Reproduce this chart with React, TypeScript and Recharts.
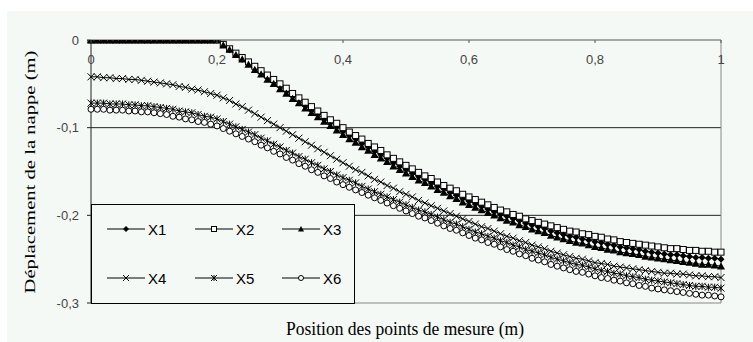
import React from "react";
import { LineChart, Line, XAxis, YAxis, ReferenceLine } from "recharts";

// measuring positions along the sheet (m)
const positions = [
  0, 0.01, 0.02, 0.03, 0.04, 0.05, 0.06, 0.07, 0.08, 0.09, 0.1,
  0.11, 0.12, 0.13, 0.14, 0.15, 0.16, 0.17, 0.18, 0.19, 0.2,
  0.21, 0.22, 0.23, 0.24, 0.25, 0.26, 0.27, 0.28, 0.29, 0.3,
  0.31, 0.32, 0.33, 0.34, 0.35, 0.36, 0.37, 0.38, 0.39, 0.4,
  0.41, 0.42, 0.43, 0.44, 0.45, 0.46, 0.47, 0.48, 0.49, 0.5,
  0.51, 0.52, 0.53, 0.54, 0.55, 0.56, 0.57, 0.58, 0.59, 0.6,
  0.61, 0.62, 0.63, 0.64, 0.65, 0.66, 0.67, 0.68, 0.69, 0.7,
  0.71, 0.72, 0.73, 0.74, 0.75, 0.76, 0.77, 0.78, 0.79, 0.8,
  0.81, 0.82, 0.83, 0.84, 0.85, 0.86, 0.87, 0.88, 0.89, 0.9,
  0.91, 0.92, 0.93, 0.94, 0.95, 0.96, 0.97, 0.98, 0.99, 1,
];

const flatStart = [
  0, 0, 0, 0, 0, 0, 0, 0, 0, 0, 0,
  0, 0, 0, 0, 0, 0, 0, 0, 0, 0,
];

const x1 = [
  ...flatStart,
  -0.005, -0.011, -0.016, -0.022, -0.027, -0.032, -0.037, -0.043, -0.048, -0.053,
  -0.058, -0.064, -0.069, -0.075, -0.08, -0.085, -0.09, -0.094, -0.099, -0.104,
  -0.109, -0.113, -0.118, -0.122, -0.127, -0.131, -0.135, -0.14, -0.144, -0.148,
  -0.152, -0.156, -0.159, -0.163, -0.167, -0.17, -0.174, -0.177, -0.181, -0.184,
  -0.187, -0.19, -0.193, -0.196, -0.199, -0.201, -0.204, -0.206, -0.209, -0.211,
  -0.213, -0.215, -0.218, -0.22, -0.222, -0.224, -0.225, -0.227, -0.228, -0.23,
  -0.231, -0.233, -0.234, -0.236, -0.237, -0.238, -0.239, -0.241, -0.242, -0.243,
  -0.244, -0.245, -0.245, -0.246, -0.247, -0.248, -0.248, -0.249, -0.249, -0.25,
];

const x2 = [
  ...flatStart,
  -0.005, -0.01, -0.015, -0.02, -0.025, -0.03, -0.035, -0.04, -0.045, -0.05,
  -0.055, -0.061, -0.066, -0.071, -0.076, -0.081, -0.086, -0.091, -0.095, -0.1,
  -0.105, -0.109, -0.113, -0.118, -0.122, -0.126, -0.131, -0.135, -0.139, -0.143,
  -0.147, -0.151, -0.155, -0.158, -0.162, -0.166, -0.169, -0.172, -0.176, -0.179,
  -0.182, -0.185, -0.188, -0.191, -0.194, -0.196, -0.199, -0.201, -0.204, -0.206,
  -0.208, -0.21, -0.212, -0.214, -0.216, -0.218, -0.219, -0.221, -0.222, -0.224,
  -0.225, -0.227, -0.228, -0.23, -0.231, -0.232, -0.233, -0.234, -0.235, -0.236,
  -0.237, -0.238, -0.238, -0.239, -0.24, -0.24, -0.241, -0.241, -0.242, -0.242,
];

const x3 = [
  ...flatStart,
  -0.006, -0.011, -0.017, -0.022, -0.028, -0.034, -0.039, -0.045, -0.05, -0.056,
  -0.061, -0.067, -0.072, -0.078, -0.083, -0.088, -0.093, -0.098, -0.103, -0.108,
  -0.113, -0.117, -0.122, -0.126, -0.131, -0.135, -0.139, -0.144, -0.148, -0.152,
  -0.156, -0.16, -0.163, -0.167, -0.171, -0.174, -0.178, -0.181, -0.185, -0.188,
  -0.191, -0.194, -0.197, -0.2, -0.203, -0.206, -0.208, -0.211, -0.213, -0.216,
  -0.218, -0.22, -0.223, -0.225, -0.227, -0.229, -0.231, -0.232, -0.234, -0.236,
  -0.237, -0.239, -0.24, -0.242, -0.243, -0.244, -0.245, -0.247, -0.248, -0.249,
  -0.25, -0.251, -0.252, -0.253, -0.254, -0.255, -0.256, -0.256, -0.257, -0.258,
];

const x4 = [
  -0.042, -0.042, -0.043, -0.043, -0.044, -0.044, -0.045, -0.045, -0.046, -0.047, -0.048,
  -0.049, -0.05, -0.051, -0.053, -0.054, -0.056, -0.057, -0.059, -0.061, -0.063,
  -0.066, -0.069, -0.073, -0.076, -0.08, -0.084, -0.088, -0.092, -0.096, -0.1,
  -0.104, -0.108, -0.112, -0.116, -0.12, -0.124, -0.128, -0.132, -0.136, -0.14,
  -0.144, -0.148, -0.151, -0.155, -0.159, -0.162, -0.166, -0.169, -0.173, -0.176,
  -0.179, -0.183, -0.186, -0.189, -0.192, -0.195, -0.198, -0.201, -0.204, -0.207,
  -0.21, -0.213, -0.215, -0.218, -0.221, -0.224, -0.226, -0.229, -0.231, -0.234,
  -0.236, -0.238, -0.241, -0.243, -0.245, -0.247, -0.249, -0.25, -0.252, -0.254,
  -0.255, -0.256, -0.258, -0.259, -0.26, -0.261, -0.262, -0.263, -0.264, -0.265,
  -0.266, -0.266, -0.267, -0.267, -0.268, -0.269, -0.269, -0.27, -0.27, -0.271,
];

const x5 = [
  -0.072, -0.072, -0.072, -0.073, -0.073, -0.073, -0.074, -0.074, -0.075, -0.075, -0.076,
  -0.077, -0.078, -0.079, -0.081, -0.082, -0.083, -0.085, -0.087, -0.088, -0.09,
  -0.093, -0.096, -0.099, -0.102, -0.105, -0.108, -0.112, -0.115, -0.119, -0.122,
  -0.126, -0.129, -0.133, -0.136, -0.14, -0.143, -0.147, -0.15, -0.154, -0.157,
  -0.16, -0.163, -0.167, -0.17, -0.173, -0.176, -0.179, -0.182, -0.185, -0.188,
  -0.191, -0.194, -0.196, -0.199, -0.202, -0.205, -0.208, -0.21, -0.213, -0.216,
  -0.219, -0.221, -0.224, -0.226, -0.229, -0.231, -0.234, -0.236, -0.239, -0.241,
  -0.243, -0.245, -0.248, -0.25, -0.252, -0.254, -0.256, -0.257, -0.259, -0.261,
  -0.263, -0.264, -0.266, -0.267, -0.269, -0.27, -0.271, -0.273, -0.274, -0.275,
  -0.276, -0.277, -0.278, -0.279, -0.28, -0.281, -0.281, -0.282, -0.282, -0.283,
];

const x6 = [
  -0.079, -0.079, -0.079, -0.08, -0.08, -0.08, -0.081, -0.081, -0.082, -0.082, -0.083,
  -0.084, -0.085, -0.087, -0.088, -0.09, -0.091, -0.093, -0.094, -0.096, -0.098,
  -0.101, -0.104, -0.107, -0.11, -0.113, -0.116, -0.12, -0.123, -0.127, -0.13,
  -0.134, -0.137, -0.141, -0.144, -0.148, -0.151, -0.155, -0.158, -0.162, -0.165,
  -0.168, -0.171, -0.174, -0.177, -0.18, -0.183, -0.186, -0.189, -0.192, -0.195,
  -0.198, -0.201, -0.203, -0.206, -0.209, -0.212, -0.215, -0.217, -0.22, -0.223,
  -0.226, -0.228, -0.231, -0.233, -0.236, -0.239, -0.241, -0.244, -0.246, -0.249,
  -0.251, -0.253, -0.256, -0.258, -0.26, -0.262, -0.264, -0.265, -0.267, -0.269,
  -0.271, -0.272, -0.274, -0.275, -0.277, -0.278, -0.28, -0.281, -0.283, -0.284,
  -0.285, -0.286, -0.287, -0.288, -0.289, -0.29, -0.291, -0.291, -0.292, -0.293,
];

const xTicks = [0, 0.2, 0.4, 0.6, 0.8, 1];
const yTicks = [0, -0.1, -0.2, -0.3];
const seriesNames = ["X1", "X2", "X3", "X4", "X5", "X6"];
const markerShapes = ["diamond", "square", "triangle", "cross", "star", "circle"];

const BG = "#f4f9f6";
const tickFont = "'Liberation Sans', Arial, sans-serif";
const titleFont = "'Liberation Serif', 'Times New Roman', serif";

const data = positions.map((p, i) => ({
  pos: p,
  X1: x1[i],
  X2: x2[i],
  X3: x3[i],
  X4: x4[i],
  X5: x5[i],
  X6: x6[i],
}));

const fmt = (v: number) => (v === 0 ? "0" : String(v).replace(".", ","));

function Marker({ shape, cx, cy, s }: { shape: string; cx: number; cy: number; s: number }) {
  switch (shape) {
    case "diamond":
      return (
        <polygon
          points={`${cx},${cy - s} ${cx + s},${cy} ${cx},${cy + s} ${cx - s},${cy}`}
          fill="#000"
        />
      );
    case "square":
      return (
        <rect x={cx - s + 0.5} y={cy - s + 0.5} width={2 * s - 1} height={2 * s - 1} fill="#fff" stroke="#000" strokeWidth={1} />
      );
    case "triangle":
      return (
        <polygon
          points={`${cx},${cy - s} ${cx + s},${cy + s * 0.8} ${cx - s},${cy + s * 0.8}`}
          fill="#000"
        />
      );
    case "cross":
      return (
        <g stroke="#000" strokeWidth={1}>
          <line x1={cx - s} y1={cy - s} x2={cx + s} y2={cy + s} />
          <line x1={cx - s} y1={cy + s} x2={cx + s} y2={cy - s} />
        </g>
      );
    case "star":
      return (
        <g stroke="#000" strokeWidth={1}>
          <line x1={cx - s} y1={cy - s} x2={cx + s} y2={cy + s} />
          <line x1={cx - s} y1={cy + s} x2={cx + s} y2={cy - s} />
          <line x1={cx} y1={cy - s} x2={cx} y2={cy + s} />
        </g>
      );
    default:
      return <circle cx={cx} cy={cy} r={s - 0.5} fill="#fff" stroke="#000" strokeWidth={1} />;
  }
}

const makeDot = (shape: string) => (props: any) => {
  const { cx, cy, index } = props;
  if (cx == null || cy == null) return <g key={index} />;
  return (
    <g key={index}>
      <Marker shape={shape} cx={cx} cy={cy} s={shape === "triangle" ? 4 : 3.5} />
    </g>
  );
};

// x labels sit below the top axis line, ticks point into the plot
const renderXTick = (props: any) => {
  const { x, y, payload, index } = props;
  return (
    <g key={index}>
      <line x1={x} x2={x} y1={y} y2={y + 3} stroke="#555" />
      <text x={x} y={y + 24} textAnchor="middle" fontSize={13} fontFamily={tickFont} fill="#444">
        {fmt(payload.value)}
      </text>
    </g>
  );
};

function Overlay() {
  const cols = [107, 195, 282];
  const rows = [229, 278];
  return (
    <svg
      width={753}
      height={342}
      style={{ position: "absolute", left: 0, top: 0, pointerEvents: "none" }}
    >
      <rect x={91.5} y={204.5} width={263} height={99} fill={BG} stroke="#000" />
      {seriesNames.map((name, i) => {
        const x0 = cols[i % 3];
        const y0 = rows[Math.floor(i / 3)];
        return (
          <g key={name}>
            <line x1={x0} x2={x0 + 38} y1={y0} y2={y0} stroke="#000" />
            <Marker shape={markerShapes[i]} cx={x0 + 19} cy={y0} s={3} />
            <text x={x0 + 41} y={y0 + 5.5} fontSize={15} fontFamily={tickFont} fill="#000">
              {name}
            </text>
          </g>
        );
      })}
      <text
        x={405}
        y={335}
        textAnchor="middle"
        fontSize={18}
        textLength={238}
        lengthAdjust="spacingAndGlyphs"
        fontFamily={titleFont}
        fill="#000"
      >
        Position des points de mesure (m)
      </text>
      <text
        x={0}
        y={0}
        transform="translate(35,172) rotate(-90)"
        textAnchor="middle"
        fontSize={15}
        textLength={243}
        lengthAdjust="spacingAndGlyphs"
        fontFamily={titleFont}
        fill="#000"
      >
        Déplacement de la nappe (m)
      </text>
    </svg>
  );
}

export default function App() {
  return (
    <div style={{ position: "absolute", left: 0, top: 0, width: 753, height: 342, background: "#fff" }}>
      <div style={{ position: "absolute", left: 7, top: 11, width: 746, height: 331, background: BG }} />
      <div style={{ position: "absolute", left: 0, top: 0 }}>
        <LineChart
          width={753}
          height={342}
          data={data}
          margin={{ top: 20, right: 32, bottom: 39, left: 31 }}
        >
          <XAxis
            dataKey="pos"
            type="number"
            orientation="top"
            domain={[0, 1]}
            ticks={xTicks}
            height={20}
            tickSize={0}
            tickMargin={0}
            tick={renderXTick}
            interval={0}
            axisLine={{ stroke: "#555" }}
            tickLine={false}
          />
          <YAxis
            type="number"
            domain={[-0.3, 0]}
            ticks={yTicks}
            width={60}
            tickSize={4}
            tickMargin={8}
            tickFormatter={fmt}
            tick={{ fontSize: 13, fontFamily: tickFont, fill: "#444" }}
            axisLine={{ stroke: "#222" }}
            tickLine={{ stroke: "#222" }}
            allowDataOverflow
          />
          <ReferenceLine y={-0.1} stroke="#222" />
          <ReferenceLine y={-0.2} stroke="#222" />
          <ReferenceLine y={-0.3} stroke="#888" />
          <ReferenceLine x={1} stroke="#888" />
          {seriesNames.map((name, i) => (
            <Line
              key={name}
              dataKey={name}
              type="linear"
              stroke="#000"
              strokeWidth={1}
              dot={makeDot(markerShapes[i])}
              activeDot={false}
              isAnimationActive={false}
            />
          ))}
        </LineChart>
      </div>
      <Overlay />
    </div>
  );
}
